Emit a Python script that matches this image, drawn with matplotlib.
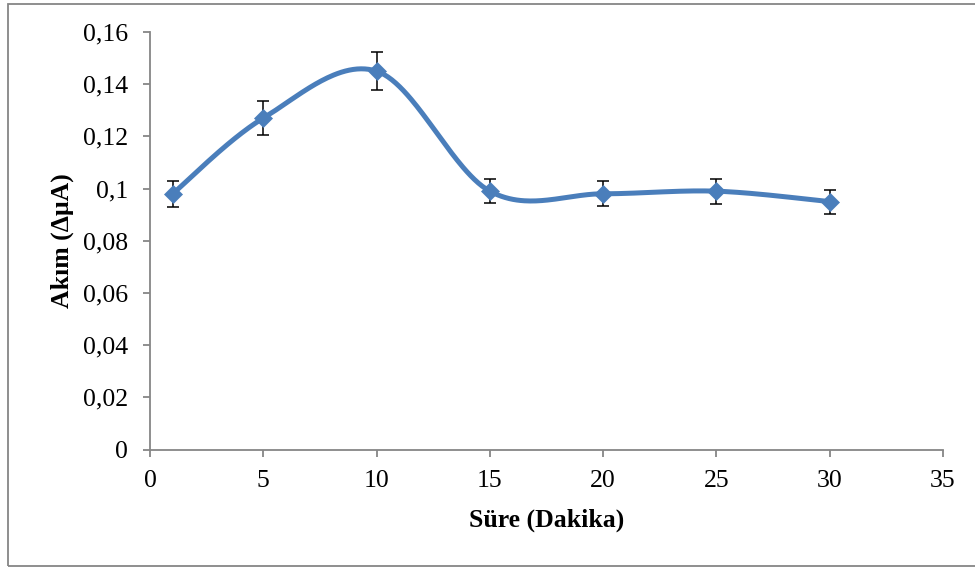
import numpy as np
import matplotlib
matplotlib.use("Agg")
import matplotlib.pyplot as plt
from matplotlib.patches import Rectangle

# Data
sure = [1, 5, 10, 15, 20, 25, 30]
akim = [0.098, 0.127, 0.145, 0.099, 0.098, 0.099, 0.095]
hata = [0.0049, 0.0064, 0.0072, 0.0047, 0.0048, 0.0048, 0.0046]
x_ticks = [0, 5, 10, 15, 20, 25, 30, 35]
y_ticks = [0, 0.02, 0.04, 0.06, 0.08, 0.1, 0.12, 0.14, 0.16]
y_tick_labels = ["0", "0,02", "0,04", "0,06", "0,08", "0,1", "0,12", "0,14", "0,16"]

plt.rcParams['font.family'] = ['Liberation Serif', 'DejaVu Serif']

W, H = 975, 567
fig = plt.figure(figsize=(W / 100, H / 100), dpi=100)
ax = fig.add_axes([150 / W, 1 - 449.5 / H, (943 - 150) / W, (449.5 - 32) / H])

# Excel-like smoothed curve (Catmull-Rom Bezier)
P = np.column_stack([sure, akim]).astype(float)
n = len(P)
xs, ys = [], []
t = np.linspace(0, 1, 60)
for i in range(n - 1):
    p0 = P[max(i - 1, 0)]
    p1 = P[i]
    p2 = P[i + 1]
    p3 = P[min(i + 2, n - 1)]
    c1 = p1 + (p2 - p0) / 6.0
    c2 = p2 - (p3 - p1) / 6.0
    b = ((1 - t) ** 3)[:, None] * p1 + (3 * (1 - t) ** 2 * t)[:, None] * c1 \
        + (3 * (1 - t) * t ** 2)[:, None] * c2 + (t ** 3)[:, None] * p2
    xs.extend(b[:, 0]); ys.extend(b[:, 1])

blue = '#4A7EBB'
ax.plot(xs, ys, color=blue, lw=3.6, solid_capstyle='round', zorder=2)
ax.errorbar(sure, akim, yerr=hata, fmt='none', ecolor='black', elinewidth=1.1,
            capsize=4.5, capthick=1.1, zorder=3)
ax.plot(sure, akim, linestyle='none', marker='D', markersize=9.2,
        markerfacecolor=blue, markeredgecolor=blue, markeredgewidth=0.5, zorder=4)

ax.set_xlim(0, 35)
ax.set_ylim(0, 0.16)
ax.set_xticks(x_ticks)
ax.set_xticklabels([str(v) for v in x_ticks])
ax.set_yticks(y_ticks)
ax.set_yticklabels(y_tick_labels)

for s in ['top', 'right']:
    ax.spines[s].set_visible(False)
for s in ['left', 'bottom']:
    ax.spines[s].set_color('#868686')
    ax.spines[s].set_linewidth(1.3)
ax.tick_params(axis='both', direction='out', length=5, width=1.3, color='#868686',
               labelsize=18.5, labelcolor='black')
ax.tick_params(axis='x', pad=10)
ax.tick_params(axis='y', pad=11)

ax.set_xlabel('Süre (Dakika)', fontsize=18.5, fontweight='bold', labelpad=12)
ax.set_ylabel('Akım (ΔμA)', fontsize=18.5, fontweight='bold', labelpad=6)

# Outer chart border
fig.patches.append(Rectangle((8 / W, 1 - 566 / H), 1.2, (566 - 4) / H,
                             transform=fig.transFigure, fill=False,
                             edgecolor='#868686', linewidth=1.3))

fig.savefig('out.png', dpi=100, facecolor='white')
